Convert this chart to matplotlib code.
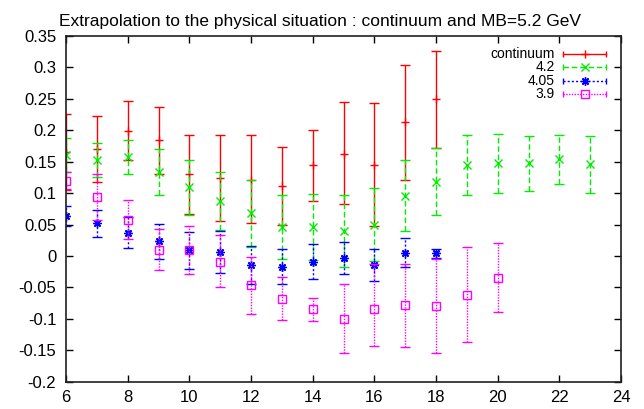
import matplotlib
matplotlib.use("Agg")
import matplotlib.pyplot as plt
from matplotlib.ticker import FuncFormatter, MultipleLocator

plt.rcParams['font.family'] = ['Liberation Sans', 'DejaVu Sans']

# continuum extrapolation
x_cont = [6, 7, 8, 9, 10, 11, 12, 13, 14, 15, 16, 17, 18]
y_cont = [0.165, 0.170, 0.199, 0.184, 0.130, 0.124, 0.121, 0.112, 0.144, 0.163, 0.144, 0.213, 0.249]
hi_cont = [0.226, 0.223, 0.246, 0.237, 0.193, 0.192, 0.192, 0.174, 0.201, 0.245, 0.243, 0.304, 0.326]
lo_cont = [0.105, 0.117, 0.152, 0.131, 0.067, 0.056, 0.052, 0.049, 0.088, 0.082, 0.047, 0.121, 0.172]

# beta = 4.2
x_42 = [6, 7, 8, 9, 10, 11, 12, 13, 14, 15, 16, 17, 18, 19, 20, 21, 22, 23]
y_42 = [0.161, 0.153, 0.157, 0.134, 0.109, 0.087, 0.068, 0.046, 0.046, 0.040, 0.050, 0.096,
        0.117, 0.145, 0.148, 0.148, 0.154, 0.146]
hi_42 = [0.188, 0.179, 0.184, 0.171, 0.152, 0.133, 0.121, 0.097, 0.099, 0.097, 0.108, 0.153,
         0.172, 0.192, 0.194, 0.191, 0.192, 0.191]
lo_42 = [0.134, 0.126, 0.130, 0.097, 0.066, 0.041, 0.015, -0.005, -0.007, -0.017, -0.008, 0.039,
         0.065, 0.097, 0.101, 0.104, 0.115, 0.101]

# beta = 4.05
x_405 = [6, 7, 8, 9, 10, 11, 12, 13, 14, 15, 16, 17, 18]
y_405 = [0.064, 0.052, 0.037, 0.024, 0.010, 0.006, -0.014, -0.017, -0.009, -0.003, -0.015, 0.005, 0.004]
hi_405 = [0.080, 0.073, 0.062, 0.051, 0.038, 0.039, 0.016, 0.011, 0.019, 0.022, 0.011, 0.028, 0.011]
lo_405 = [0.048, 0.031, 0.012, -0.004, -0.021, -0.027, -0.045, -0.045, -0.036, -0.028, -0.040, -0.018, -0.003]

# beta = 3.9
x_39 = [6, 7, 8, 9, 10, 11, 12, 13, 14, 15, 16, 17, 18, 19, 20]
y_39 = [0.120, 0.094, 0.058, 0.010, 0.010, -0.009, -0.046, -0.068, -0.085, -0.100, -0.085,
        -0.078, -0.079, -0.062, -0.035]
hi_39 = [0.134, 0.130, 0.089, 0.043, 0.048, 0.033, -0.001, -0.034, -0.067, -0.045, -0.012,
         -0.012, -0.004, 0.014, 0.020]
lo_39 = [0.106, 0.058, 0.027, -0.023, -0.028, -0.050, -0.092, -0.102, -0.104, -0.155, -0.143,
         -0.144, -0.155, -0.137, -0.089]

labels = ['continuum', '4.2', '4.05', '3.9']
colors = ['#ff0000', '#00ee00', '#0000ff', '#ff00ff']
markers = ['+', 'x', (8, 2, 0), 's']
styles = ['-', (0, (4, 2)), (0, (1.5, 1.5)), (0, (1, 1))]
series = [(x_cont, y_cont, lo_cont, hi_cont),
          (x_42, y_42, lo_42, hi_42),
          (x_405, y_405, lo_405, hi_405),
          (x_39, y_39, lo_39, hi_39)]

fig = plt.figure(figsize=(6.44, 4.09), dpi=100)
ax = fig.add_axes([66 / 644, 27.3 / 409, 555 / 644, 345.7 / 409])

for (xs, ys, lo, hi), col, mk, ls in zip(series, colors, markers, styles):
    err = [[y - l for y, l in zip(ys, lo)], [h - y for y, h in zip(ys, hi)]]
    mfc = 'none' if mk == 's' else col
    line, caps, bars = ax.errorbar(xs, ys, yerr=err, fmt='none', ecolor=col,
                                   elinewidth=1.0, capsize=3.5, capthick=1.0)
    bars[0].set_linestyle(ls)
    ax.plot(xs, ys, linestyle='none', marker=mk, color=col, mfc=mfc,
            markersize=6 if mk != 's' else 5.5, mew=1.0)

ax.set_xlim(6, 24)
ax.set_ylim(-0.2, 0.35)
ax.xaxis.set_major_locator(MultipleLocator(2))
ax.yaxis.set_major_locator(MultipleLocator(0.05))
ax.yaxis.set_major_formatter(FuncFormatter(lambda v, p: f'{round(v, 2):g}'))
ax.tick_params(direction='in', top=True, right=True, length=5, width=1,
               labelsize=12, colors='black')
ax.tick_params(axis='y', pad=7)
ax.tick_params(axis='x', pad=6)
for s in ax.spines.values():
    s.set_linewidth(1.2)
    s.set_color('#202020')

# key in the upper right, gnuplot style: label then sample
rows_y = [54, 67.3, 81, 94.3]
x0, x1, xm = (563 - 66) / 555, (606 - 66) / 555, (584.5 - 66) / 555
for lab, col, mk, ls, py in zip(labels, colors, markers, styles, rows_y):
    ya = (381.7 - py) / 345.7
    ax.text((555 - 66) / 555, ya, lab, transform=ax.transAxes, ha='right',
            va='center', fontsize=10)
    ax.plot([x0, x1], [ya, ya], transform=ax.transAxes, color=col, lw=1.0,
            linestyle=ls, clip_on=False)
    ax.plot([x0, x1], [ya, ya], transform=ax.transAxes, color=col, lw=1.0,
            linestyle='none', marker='|', markersize=5, clip_on=False)
    ax.plot([xm], [ya], transform=ax.transAxes, color=col, linestyle='none',
            marker=mk, mfc='none' if mk == 's' else col,
            markersize=6 if mk != 's' else 5.5, mew=1.0, clip_on=False)

fig.text(320 / 644, 1 - 26 / 409,
         'Extrapolation to the physical situation : continuum and MB=5.2 GeV',
         ha='center', va='baseline', fontsize=12.5)

fig.savefig('out.png', dpi=100)
